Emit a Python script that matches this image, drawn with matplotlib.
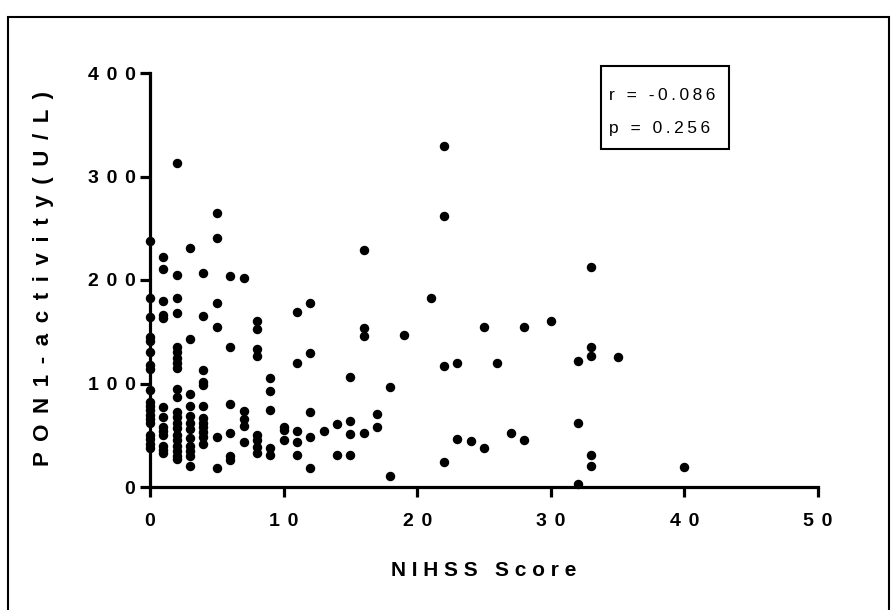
import matplotlib
matplotlib.use('Agg')
import matplotlib.pyplot as plt
from matplotlib.patches import Rectangle

plt.rcParams['font.family'] = ['Liberation Sans', 'DejaVu Sans']

# NIHSS score (x) and PON1 activity in U/L (y)
nihss = ([0] * 19 + [1] * 13 + [2] * 21 + [3] * 12 + [4] * 12 + [5] * 6 + [6] * 6
         + [7] * 5 + [8] * 8 + [9] * 5 + [10] * 3 + [11] * 5 + [12] * 5 + [13]
         + [14] * 2 + [15] * 4 + [16] * 4 + [17] * 2 + [18] * 2 + [19] + [21]
         + [22] * 4 + [23] * 2 + [24] + [25] * 2 + [26] + [27] + [28] * 2 + [30]
         + [32] * 3 + [33] * 5 + [35] + [40])
pon1 = [238, 183, 164, 145, 141, 130, 118, 114, 94, 82, 78, 74, 70, 66, 62, 50, 46, 42, 38,
        222, 211, 180, 166, 163, 77, 68, 58, 54, 50, 40, 36, 33,
        313, 205, 183, 168, 135, 130, 125, 120, 115, 95, 87, 72, 68, 62, 57, 50, 45, 40, 35, 30, 27,
        231, 143, 90, 78, 69, 62, 56, 47, 40, 35, 30, 20,
        207, 165, 113, 101, 99, 78, 67, 62, 58, 53, 48, 42,
        265, 241, 178, 155, 48, 18,
        204, 135, 80, 52, 30, 26,
        202, 73, 66, 59, 43,
        160, 153, 133, 127, 50, 45, 39, 33,
        105, 93, 74, 38, 31,
        58, 55, 45,
        169, 120, 54, 43, 31,
        178, 129, 72, 48, 18,
        54,
        61, 31,
        106, 64, 51, 31,
        229, 154, 146, 52,
        71, 58,
        97, 11,
        147,
        183,
        329, 262, 117, 24,
        120, 46,
        44,
        155, 38,
        120,
        52,
        155, 45,
        160,
        122, 62, 3,
        213, 135, 127, 31, 20,
        126,
        19]

xticks = [0, 10, 20, 30, 40, 50]
yticks = [0, 100, 200, 300, 400]
stats = ['r = -0.086', 'p = 0.256']


def spaced(s, sep='\u2009'):
    # GraphPad style letter spacing
    return sep.join(s)


fig = plt.figure(figsize=(8.96, 6.10), dpi=100)
ax = fig.add_axes([150 / 896, 123 / 610, 668 / 896, 414 / 610])

ax.plot(nihss, pon1, 'o', color='black', markersize=5.8, clip_on=False, zorder=2)

ax.set_xlim(0, 50)
ax.set_ylim(0, 400)
for side in ['top', 'right']:
    ax.spines[side].set_visible(False)
for side in ['left', 'bottom']:
    ax.spines[side].set_linewidth(2.3)
    ax.spines[side].set_zorder(3)

tick_sep = '\u2009\u2009'
ax.set_xticks(xticks, labels=[spaced(str(t), tick_sep) for t in xticks])
ax.set_yticks(yticks, labels=[spaced(str(t), tick_sep) for t in yticks])
ax.tick_params(axis='both', direction='out', length=7.5, width=2.3, labelsize=14)
ax.tick_params(axis='x', pad=11)
ax.tick_params(axis='y', pad=3)
for lab in ax.get_xticklabels() + ax.get_yticklabels():
    lab.set_fontweight('bold')

fig.text(484 / 896, 39 / 610, spaced('NIHSS Score', ' '), ha='center', va='center',
         fontsize=15, fontweight='bold')
fig.text(44 / 896, 331 / 610, spaced('PON1-activity(U/L)', ' \u2009'), ha='center', va='center',
         rotation=90, fontsize=16, fontweight='bold')

# stats box
fig.patches.append(Rectangle((600.7 / 896, 460.7 / 610), 128.6 / 896, 83.3 / 610,
                             transform=fig.transFigure, fill=False,
                             edgecolor='black', linewidth=1.5))
fig.text(609 / 896, 514 / 610, spaced(stats[0]), ha='left', va='center', fontsize=12.5)
fig.text(609 / 896, 481 / 610, spaced(stats[1]), ha='left', va='center', fontsize=12.5)

# outer frame
fig.patches.append(Rectangle((8 / 896, -0.1), 881 / 896, (593 / 610) + 0.1,
                             transform=fig.transFigure, fill=False,
                             edgecolor='black', linewidth=1.5))

fig.savefig('out.png', dpi=100)
